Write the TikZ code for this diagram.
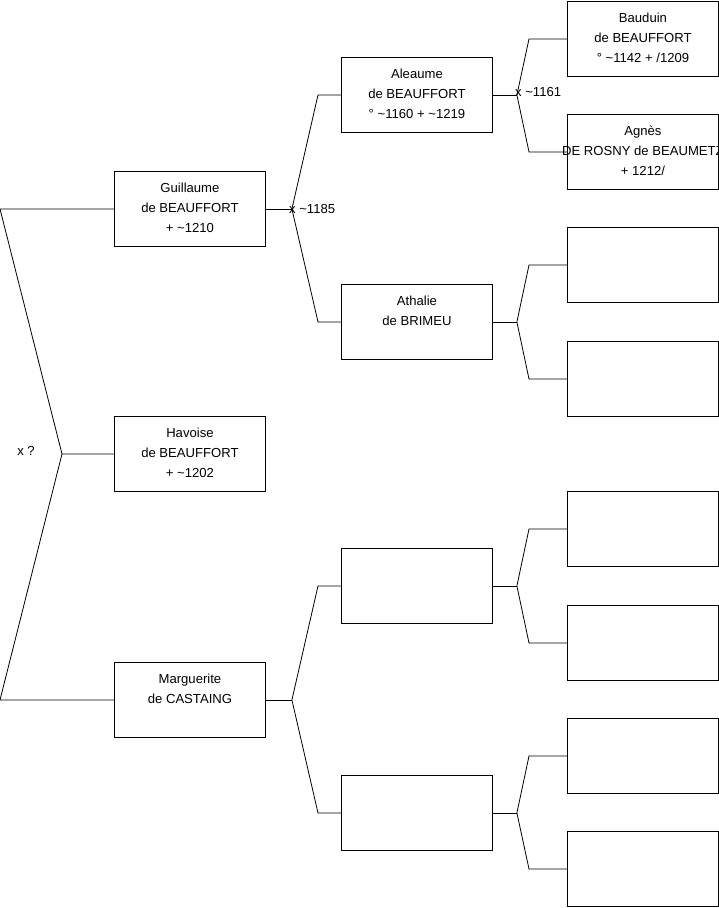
\documentclass[tikz,border=0pt]{standalone}
\usepackage{fontspec}
\setmainfont{Liberation Sans}
\begin{document}
\begin{tikzpicture}[x=1pt,y=-1pt,
  pbox/.style={draw=black,line width=0.9pt,minimum width=151pt,minimum height=75pt,inner sep=0pt,anchor=north west},
  ptext/.style={align=center,anchor=north,inner sep=0pt,font=\fontsize{13.1}{20}\selectfont},
  lbl/.style={inner sep=0pt,font=\fontsize{13.1}{20}\selectfont},
  conn/.style={draw=black,line width=0.8pt}]
\useasboundingbox (0,0) rectangle (719,908);
\newcommand\perbox[4]{%
  \node[pbox] (#1) at (#2,#3) {};
  \node[ptext] (#1t) at ([yshift=-12pt]#1.north) {#4};}
% level 0
\perbox{guil}{114}{171}{Guillaume\\de BEAUFFORT\\+ \textasciitilde 1210}
\perbox{hav}{114}{416}{Havoise\\de BEAUFFORT\\+ \textasciitilde 1202}
\perbox{marg}{114}{662}{Marguerite\\de CASTAING}
% level 1
\perbox{alea}{341}{57}{Aleaume\\de BEAUFFORT\\° \textasciitilde 1160 + \textasciitilde 1219}
\perbox{atha}{341}{284}{Athalie\\de BRIMEU}
\node[pbox] (e1) at (341,548) {};
\node[pbox] (e2) at (341,775) {};
% level 2
\perbox{baud}{567}{1}{Bauduin\\de BEAUFFORT\\° \textasciitilde 1142 + /1209}
\perbox{agnes}{567}{114}{Agnès\\DE ROSNY de BEAUMETZ\\+ 1212/}
\node[pbox] (r3) at (567,227) {};
\node[pbox] (r4) at (567,341) {};
\node[pbox] (r5) at (567,491) {};
\node[pbox] (r6) at (567,605) {};
\node[pbox] (r7) at (567,718) {};
\node[pbox] (r8) at (567,831) {};
% level 0 connectors
\coordinate (j0) at (62,454);
\draw[conn] (hav.west) -- (j0);
\draw[conn] (j0) -- ([xshift=-114pt]guil.west) -- (guil.west);
\draw[conn] (j0) -- ([xshift=-114pt]marg.west) -- (marg.west);
\node[lbl] (xq) at (26,451) {x ?};
% forks
\newcommand\fork[6]{%
  \coordinate (#1) at ([xshift=#5pt]#2.east);
  \draw[conn] (#2.east) -- (#1);
  \draw[conn] (#1) -- ([xshift=-#6pt]#3.west) -- (#3.west);
  \draw[conn] (#1) -- ([xshift=-#6pt]#4.west) -- (#4.west);}
\fork{j1}{guil}{alea}{atha}{26}{23}
\fork{j2}{marg}{e1}{e2}{26}{23}
\fork{j3}{alea}{baud}{agnes}{24}{38}
\fork{j4}{atha}{r3}{r4}{24}{38}
\fork{j5}{e1}{r5}{r6}{24}{38}
\fork{j6}{e2}{r7}{r8}{24}{38}
\node[lbl,anchor=west] (m1) at ([xshift=-3pt]j1) {x \textasciitilde 1185};
\node[lbl,anchor=west] (m2) at ([xshift=-2pt,yshift=3pt]j3) {x \textasciitilde 1161};
\end{tikzpicture}
\end{document}
